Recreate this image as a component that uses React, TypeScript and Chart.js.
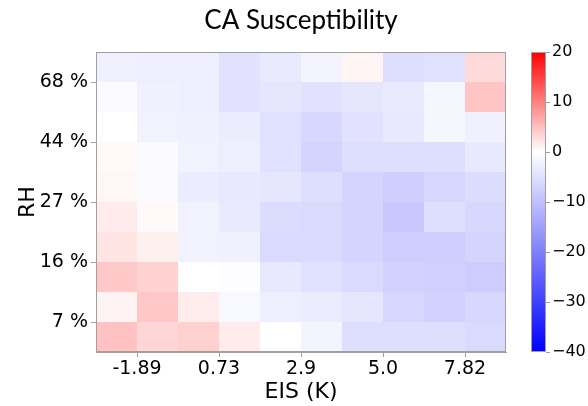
import React, { useEffect, useRef } from "react";
import { Chart, registerables } from "chart.js";

Chart.register(...registerables);

const chartTitle = "CA Susceptibility";
const xAxisTitle = "EIS (K)";
const yAxisTitle = "RH";
const xTickLabels = ["-1.89", "0.73", "2.9", "5.0", "7.82"];
const yTickLabels = ["7 %", "16 %", "27 %", "44 %", "68 %"];
const labeledEdges = [1, 3, 5, 7, 9];
const colorbarTicks = [20, 10, 0, -10, -20, -30, -40];
const colorMin = -40;
const colorMax = 20;

// rows from top (highest RH) to bottom (lowest RH); columns from low EIS to high EIS
const susceptibility: number[][] = [
  [-2.4, -2.7, -2.7, -4.5, -3.3, -1.7, 0.8, -5.2, -4.9, 2.9],
  [-0.8, -2.4, -2.7, -4.5, -3.9, -4.5, -3.9, -3.3, -1.4, 4.6],
  [0.0, -2.0, -2.4, -3.0, -4.9, -6.1, -4.5, -3.6, -1.4, -2.4],
  [0.5, -0.8, -2.0, -2.7, -4.9, -6.7, -5.2, -5.2, -5.2, -3.6],
  [0.7, -0.8, -3.0, -3.6, -3.9, -5.2, -6.7, -7.7, -6.4, -5.5],
  [1.6, 0.5, -2.0, -3.3, -5.5, -5.8, -6.7, -8.6, -5.2, -6.1],
  [2.1, 1.2, -2.0, -2.4, -5.8, -5.8, -6.7, -7.7, -7.7, -6.7],
  [4.3, 3.5, 0.0, -0.3, -3.6, -4.9, -5.8, -7.1, -7.4, -8.0],
  [1.0, 4.3, 1.5, -1.1, -2.7, -3.0, -3.9, -6.4, -7.1, -6.1],
  [4.9, 3.2, 3.7, 1.6, 0.0, -1.7, -5.2, -5.2, -5.2, -5.8],
];

const nRows = susceptibility.length;
const nCols = susceptibility[0].length;

function bwr(v: number): string {
  if (v >= 0) {
    const t = Math.min(v / colorMax, 1);
    const g = Math.round(255 * (1 - t));
    return `rgb(255,${g},${g})`;
  }
  const t = Math.min(v / colorMin, 1);
  const g = Math.round(255 * (1 - t));
  return `rgb(${g},${g},255)`;
}

const frameColor = "#a0a0a0";

const heatmapPlugin = {
  id: "heatmapCells",
  beforeDatasetsDraw(chart: any) {
    const { ctx, scales } = chart;
    const xs = scales.x;
    const ys = scales.y;
    const data = chart.data.datasets[0].data as { x: number; y: number; v: number }[];
    ctx.save();
    for (const d of data) {
      const x0 = Math.round(xs.getPixelForValue(d.x - 0.5));
      const x1 = Math.round(xs.getPixelForValue(d.x + 0.5));
      const y0 = Math.round(ys.getPixelForValue(d.y + 0.5));
      const y1 = Math.round(ys.getPixelForValue(d.y - 0.5));
      ctx.fillStyle = bwr(d.v);
      ctx.fillRect(x0, y0, x1 - x0, y1 - y0);
    }
    ctx.restore();
  },
  afterDatasetsDraw(chart: any) {
    const { ctx, chartArea } = chart;
    const { left, right, top, bottom } = chartArea;
    ctx.save();
    // frame
    ctx.strokeStyle = frameColor;
    ctx.lineWidth = 1;
    ctx.strokeRect(Math.round(left) + 0.5, Math.round(top) + 0.5, Math.round(right - left) - 1, Math.round(bottom - top) - 1);

    // title
    ctx.fillStyle = "#000";
    ctx.font = "26px Lato";
    ctx.textAlign = "center";
    ctx.textBaseline = "alphabetic";
    ctx.fillText(chartTitle, (left + right) / 2, 29);

    // colorbar
    const cbLeft = Math.round(right) + 25;
    const cbW = 15;
    const grad = ctx.createLinearGradient(0, top, 0, bottom);
    grad.addColorStop(0, bwr(colorMax));
    grad.addColorStop(colorMax / (colorMax - colorMin), bwr(0));
    grad.addColorStop(1, bwr(colorMin));
    ctx.fillStyle = grad;
    ctx.fillRect(cbLeft, top, cbW, bottom - top);
    ctx.strokeStyle = frameColor;
    ctx.strokeRect(cbLeft + 0.5, Math.round(top) + 0.5, cbW - 1, Math.round(bottom - top) - 1);
    ctx.font = "16px 'DejaVu Sans'";
    ctx.textAlign = "left";
    ctx.textBaseline = "middle";
    for (const t of colorbarTicks) {
      const y = top + ((colorMax - t) / (colorMax - colorMin)) * (bottom - top);
      const yy = Math.round(y) + 0.5;
      ctx.strokeStyle = frameColor;
      ctx.beginPath();
      ctx.moveTo(cbLeft + cbW, yy);
      ctx.lineTo(cbLeft + cbW + 4, yy);
      ctx.stroke();
      ctx.fillStyle = "#000";
      const label = t < 0 ? "\u2212" + Math.abs(t) : String(t);
      ctx.fillText(label, cbLeft + cbW + 6, y);
    }
    ctx.restore();
  },
};

export default function App() {
  const ref = useRef<HTMLCanvasElement>(null);
  useEffect(() => {
    const cells = susceptibility.flatMap((row, r) =>
      row.map((v, c) => ({ x: c + 0.5, y: nRows - 1 - r + 0.5, v }))
    );
    const chart = new Chart(ref.current as HTMLCanvasElement, {
      type: "scatter",
      data: {
        datasets: [
          {
            label: "susceptibility",
            data: cells as any,
            pointRadius: 0,
            showLine: false,
          },
        ],
      },
      options: {
        animation: false,
        responsive: false,
        devicePixelRatio: 1,
        layout: { padding: { top: 52, right: 82, bottom: 0, left: 0 } },
        plugins: {
          legend: { display: false },
          tooltip: { enabled: false },
          title: { display: false },
        },
        scales: {
          x: {
            type: "linear",
            min: 0,
            max: nCols,
            afterBuildTicks: (s: any) => {
              s.ticks = labeledEdges.map((v) => ({ value: v }));
            },
            afterFit: (s: any) => {
              s.height = 54;
            },
            ticks: {
              callback: (value: any) => xTickLabels[labeledEdges.indexOf(Math.round(Number(value)))] ?? "",
              font: { family: "'DejaVu Sans'", size: 19 },
              color: "#000",
              padding: 1,
              maxRotation: 0,
              autoSkip: false,
            },
            grid: { drawOnChartArea: false, drawTicks: true, tickLength: 5, color: frameColor },
            border: { display: true, color: frameColor },
            title: {
              display: true,
              text: xAxisTitle,
              color: "#000",
              font: { family: "'DejaVu Sans'", size: 22 },
              padding: { top: 0, bottom: 1 },
            },
          },
          y: {
            type: "linear",
            min: 0,
            max: nRows,
            afterBuildTicks: (s: any) => {
              s.ticks = labeledEdges.map((v) => ({ value: v }));
            },
            afterFit: (s: any) => {
              s.width = 96;
            },
            ticks: {
              callback: (value: any) => yTickLabels[labeledEdges.indexOf(Math.round(Number(value)))] ?? "",
              font: { family: "'DejaVu Sans'", size: 19 },
              color: "#000",
              padding: 3,
              autoSkip: false,
            },
            grid: { drawOnChartArea: false, drawTicks: true, tickLength: 5, color: frameColor },
            border: { display: true, color: frameColor },
            title: {
              display: true,
              text: yAxisTitle,
              color: "#000",
              font: { family: "'DejaVu Sans'", size: 22 },
              padding: { top: 15, bottom: 0 },
            },
          },
        },
      },
      plugins: [heatmapPlugin],
    } as any);
    return () => chart.destroy();
  }, []);
  return (
    <div style={{ position: "absolute", left: 0, top: 0, width: 588, height: 406, background: "#fff" }}>
      <canvas ref={ref} width={588} height={406} style={{ display: "block", width: 588, height: 406 }} />
    </div>
  );
}
